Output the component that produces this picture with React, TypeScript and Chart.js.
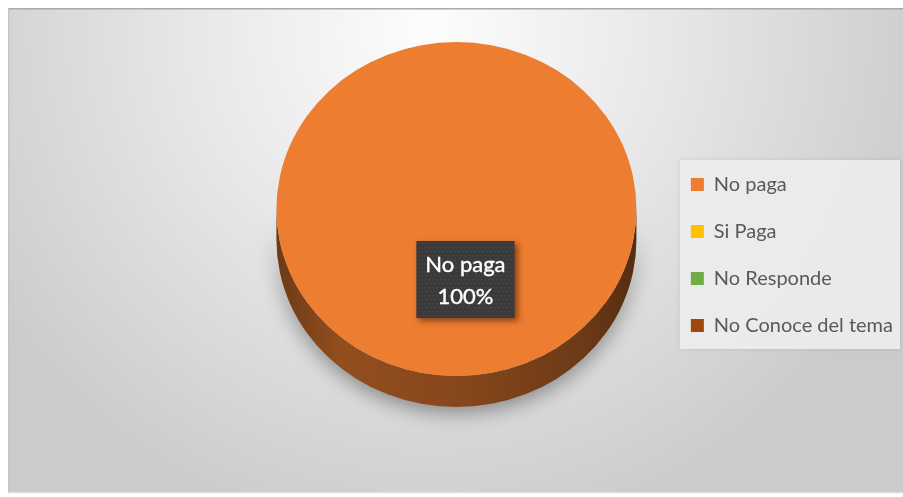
import React, { useEffect, useRef } from "react";
import { Chart, registerables } from "chart.js";

Chart.register(...registerables);

const categories = ["No paga", "Si Paga", "No Responde", "No Conoce del tema"];
const values = [100, 0, 0, 0];
const colors = ["#ED7D31", "#FFC000", "#70AD47", "#9E480E"];

const TILT = 0.928; // vertical squash of the pie top
const DEPTH = 31; // thickness of the pie side, px
const CANVAS_W = 895;
const CANVAS_H = 486;
const LEGEND_SHIFT_Y = 46;

function shade(hex: string, f: number): string {
  const n = parseInt(hex.slice(1), 16);
  const r = Math.round(((n >> 16) & 255) * f);
  const g = Math.round(((n >> 8) & 255) * f);
  const b = Math.round((n & 255) * f);
  return `rgb(${r},${g},${b})`;
}

export default function App() {
  const ref = useRef<HTMLCanvasElement | null>(null);

  useEffect(() => {
    const canvas = ref.current;
    if (!canvas) return;

    const backgroundPlugin = {
      id: "bgPlugin",
      afterLayout(chart: any) {
        const lg = chart.legend;
        if (lg) {
          lg.top += LEGEND_SHIFT_Y;
          lg.bottom += LEGEND_SHIFT_Y;
        }
      },
      beforeDraw(chart: any) {
        const { ctx, width, height } = chart;
        ctx.save();
        const g = ctx.createRadialGradient(width * 0.47, height * 0.05, 0, width * 0.47, height * 0.05, width * 0.58);
        g.addColorStop(0, "#fdfdfd");
        g.addColorStop(0.45, "#e8e8e8");
        g.addColorStop(1, "#cbcbcb");
        ctx.fillStyle = g;
        ctx.fillRect(0, 0, width, height);
        ctx.fillStyle = "#a9a9a9";
        ctx.fillRect(0, 0, width, 1.5);
        ctx.fillStyle = "#c4c4c4";
        ctx.fillRect(0, 0, 1.2, height);
        ctx.fillStyle = "#f4f4f4";
        ctx.fillRect(0, height - 1.5, width, 1.5);
        const lg = chart.legend;
        if (lg) {
          const x = lg.left + 16;
          const y = lg.top + 85;
          const w = lg.width - 19;
          const h = lg.height - 171;
          ctx.shadowColor = "rgba(0,0,0,0.12)";
          ctx.shadowBlur = 4;
          ctx.fillStyle = "rgba(240,240,240,0.9)";
          ctx.fillRect(x, y, w, h);
        }
        ctx.restore();
      },
    };

    const pie3dPlugin = {
      id: "pie3d",
      beforeDatasetsDraw(chart: any) {
        const { ctx } = chart;
        const meta = chart.getDatasetMeta(0);
        const els = meta.data as any[];
        if (!els.length) return;
        const cx = els[0].x;
        const cy = els[0].y;
        // sides
        els.forEach((el: any, i: number) => {
          const span = el.endAngle - el.startAngle;
          if (span <= 0) return;
          const rx = el.outerRadius;
          const ry = rx * TILT;
          let a0 = el.startAngle % (Math.PI * 2);
          if (a0 < 0) a0 += Math.PI * 2;
          const a1 = a0 + span;
          const ranges: [number, number][] = [];
          for (const base of [0, Math.PI * 2]) {
            const s = Math.max(a0, base);
            const e = Math.min(a1, base + Math.PI);
            if (e > s) ranges.push([s, e]);
          }
          const col = colors[i % colors.length];
          ranges.forEach(([s, e]) => {
            ctx.save();
            const grad = ctx.createLinearGradient(cx - rx, 0, cx + rx, 0);
            grad.addColorStop(0, shade(col, 0.46));
            grad.addColorStop(0.18, shade(col, 0.62));
            grad.addColorStop(0.5, shade(col, 0.57));
            grad.addColorStop(0.85, shade(col, 0.46));
            grad.addColorStop(1, shade(col, 0.36));
            ctx.fillStyle = grad;
            ctx.shadowColor = "rgba(0,0,0,0.38)";
            ctx.shadowBlur = 20;
            ctx.shadowOffsetY = 6;
            ctx.beginPath();
            ctx.moveTo(cx + rx * Math.cos(s), cy + ry * Math.sin(s));
            ctx.lineTo(cx + rx * Math.cos(s), cy + ry * Math.sin(s) + DEPTH);
            ctx.ellipse(cx, cy + DEPTH, rx, ry, 0, s, e, false);
            ctx.lineTo(cx + rx * Math.cos(e), cy + ry * Math.sin(e));
            ctx.ellipse(cx, cy, rx, ry, 0, e, s, true);
            ctx.closePath();
            ctx.fill();
            ctx.restore();
          });
        });
        // squash the top face
        ctx.save();
        ctx.translate(cx, cy);
        ctx.scale(1, TILT);
        ctx.translate(-cx, -cy);
      },
      afterDatasetsDraw(chart: any) {
        const { ctx } = chart;
        const meta = chart.getDatasetMeta(0);
        const els = meta.data as any[];
        if (!els.length) return;
        ctx.restore();
        const total = values.reduce((a, b) => a + b, 0);
        els.forEach((el: any, i: number) => {
          const v = values[i];
          if (!v) return;
          const pos = el.tooltipPosition(false);
          const cy = el.y;
          const x = pos.x + 9;
          const y = cy + (pos.y - cy) * TILT - 13;
          const lines = [categories[i], `${Math.round((v / total) * 100)}%`];
          ctx.save();
          ctx.font = "22px Lato";
          const tw = Math.max(...lines.map((t) => ctx.measureText(t).width));
          const bw = tw + 18;
          const bh = 77;
          const bx = x - bw / 2;
          const by = y - bh / 2;
          ctx.shadowColor = "rgba(60,20,0,0.55)";
          ctx.shadowBlur = 6;
          ctx.shadowOffsetX = 3;
          ctx.shadowOffsetY = 3;
          ctx.fillStyle = "#3a3a3a";
          ctx.fillRect(bx, by, bw, bh);
          ctx.shadowColor = "transparent";
          ctx.fillStyle = "rgba(110,110,110,0.35)";
          for (let yy = by + 2; yy < by + bh - 1; yy += 4) {
            for (let xx = bx + 2 + ((yy - by) % 8 === 2 ? 0 : 2); xx < bx + bw - 1; xx += 4) {
              ctx.fillRect(xx, yy, 1.3, 1.3);
            }
          }
          ctx.fillStyle = "#ffffff";
          ctx.strokeStyle = "#ffffff";
          ctx.lineWidth = 0.4;
          ctx.textAlign = "center";
          ctx.textBaseline = "middle";
          ctx.fillText(lines[0], x, y - 15);
          ctx.strokeText(lines[0], x, y - 15);
          ctx.fillText(lines[1], x, y + 17);
          ctx.strokeText(lines[1], x, y + 17);
          ctx.restore();
        });
      },
    };

    const chart = new Chart(canvas, {
      type: "pie",
      data: {
        labels: categories,
        datasets: [
          {
            data: values,
            backgroundColor: colors,
            borderWidth: 0,
          },
        ],
      },
      options: {
        responsive: false,
        animation: false,
        events: [],
        layout: { padding: { left: 241, right: 0, top: 21, bottom: 105 } },
        plugins: {
          tooltip: { enabled: false },
          legend: {
            position: "right",
            labels: {
              boxWidth: 13,
              boxHeight: 13,
              padding: 27,
              color: "#595959",
              font: { family: "Lato", size: 20 },
            },
          },
        },
      },
      plugins: [backgroundPlugin, pie3dPlugin],
    });

    return () => chart.destroy();
  }, []);

  return (
    <div style={{ position: "absolute", left: 8, top: 8, width: CANVAS_W, height: CANVAS_H }}>
      <canvas ref={ref} width={CANVAS_W} height={CANVAS_H} style={{ width: CANVAS_W, height: CANVAS_H, display: "block" }} />
    </div>
  );
}
